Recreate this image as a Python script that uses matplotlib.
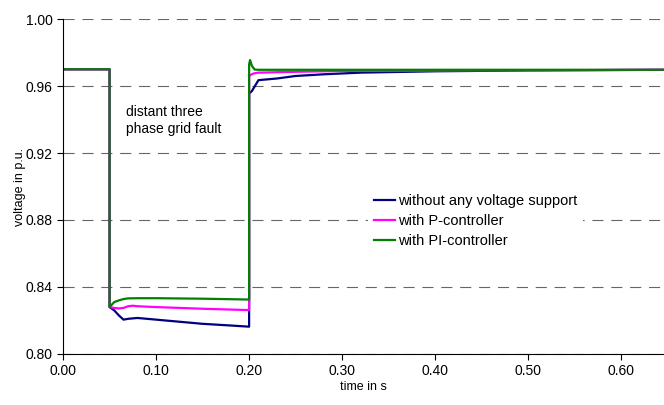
import matplotlib
matplotlib.use("Agg")
import matplotlib.pyplot as plt

plt.rcParams['font.family'] = ['Liberation Sans', 'DejaVu Sans']

# time in s / voltage in p.u.
t_none = [0, 0.05, 0.05, 0.055, 0.06, 0.065, 0.07, 0.08, 0.09, 0.10, 0.12, 0.15,
          0.18, 0.2, 0.2, 0.203, 0.21, 0.22, 0.23, 0.25, 0.28, 0.32, 0.4, 0.5, 0.65]
v_none = [0.970, 0.970, 0.828, 0.826, 0.823, 0.8205, 0.821, 0.8215, 0.821, 0.8205,
          0.8195, 0.818, 0.817, 0.8163, 0.9555, 0.957, 0.9635, 0.964, 0.9645,
          0.966, 0.967, 0.968, 0.9688, 0.9693, 0.9697]

t_p = [0, 0.05, 0.05, 0.055, 0.06, 0.065, 0.07, 0.075, 0.08, 0.1, 0.15, 0.2,
       0.2, 0.202, 0.205, 0.21, 0.25, 0.3, 0.65]
v_p = [0.970, 0.970, 0.828, 0.8275, 0.8272, 0.8275, 0.8285, 0.8288, 0.8285,
       0.828, 0.827, 0.8262, 0.966, 0.9668, 0.9675, 0.968, 0.9685, 0.969, 0.9697]

t_pi = [0, 0.05, 0.05, 0.055, 0.06, 0.065, 0.07, 0.08, 0.1, 0.15, 0.2, 0.2,
        0.201, 0.203, 0.206, 0.21, 0.25, 0.65]
v_pi = [0.970, 0.970, 0.828, 0.831, 0.832, 0.8328, 0.8332, 0.8333, 0.8333,
        0.8330, 0.8325, 0.973, 0.9755, 0.972, 0.9698, 0.9697, 0.9697, 0.9697]

labels = ['without any voltage support', 'with P-controller', 'with PI-controller']
colors = ['#000080', '#ff00ff', '#008000']

x_ticks = [0.0, 0.1, 0.2, 0.3, 0.4, 0.5, 0.6]
y_ticks = [0.80, 0.84, 0.88, 0.92, 0.96, 1.00]

fig = plt.figure(figsize=(6.64, 4.05), dpi=100)
ax = fig.add_axes([0.095, 0.126, 0.905, 0.827])

for t, v, lab, c in zip([t_none, t_p, t_pi], [v_none, v_p, v_pi], labels, colors):
    ax.plot(t, v, color=c, lw=1.6, label=lab)

ax.set_xlim(0, 0.646)
ax.set_ylim(0.80, 1.00)
ax.set_xticks(x_ticks)
ax.set_xticklabels(['%.2f' % x for x in x_ticks])
ax.set_yticks(y_ticks)
ax.set_yticklabels(['%.2f' % y for y in y_ticks])
ax.tick_params(labelsize=10, direction='out', length=4, width=0.8)
ax.yaxis.grid(True, linestyle=(0, (10, 7)), color='#666666', lw=0.8)
ax.set_axisbelow(True)
for s in ['top', 'right']:
    ax.spines[s].set_visible(False)

ax.set_xlabel('time in s', fontsize=9, labelpad=2)
ax.set_ylabel('voltage in p.u.', fontsize=9, labelpad=0)

ax.text(0.068, 0.9485, 'distant three\nphase grid fault', fontsize=10,
        va='top', ha='left', linespacing=1.25)

# legend sits on a white box that hides the grid behind it
leg = ax.legend(loc='upper left', bbox_to_anchor=(0.508, 0.495), frameon=True,
                fontsize=10.5, handlelength=1.4, handletextpad=0.25,
                labelspacing=0.4, borderaxespad=0, fancybox=False)
leg.get_frame().set_edgecolor('none')
leg.get_frame().set_facecolor('white')
leg.get_frame().set_alpha(1)

fig.savefig('out.png', dpi=100)
